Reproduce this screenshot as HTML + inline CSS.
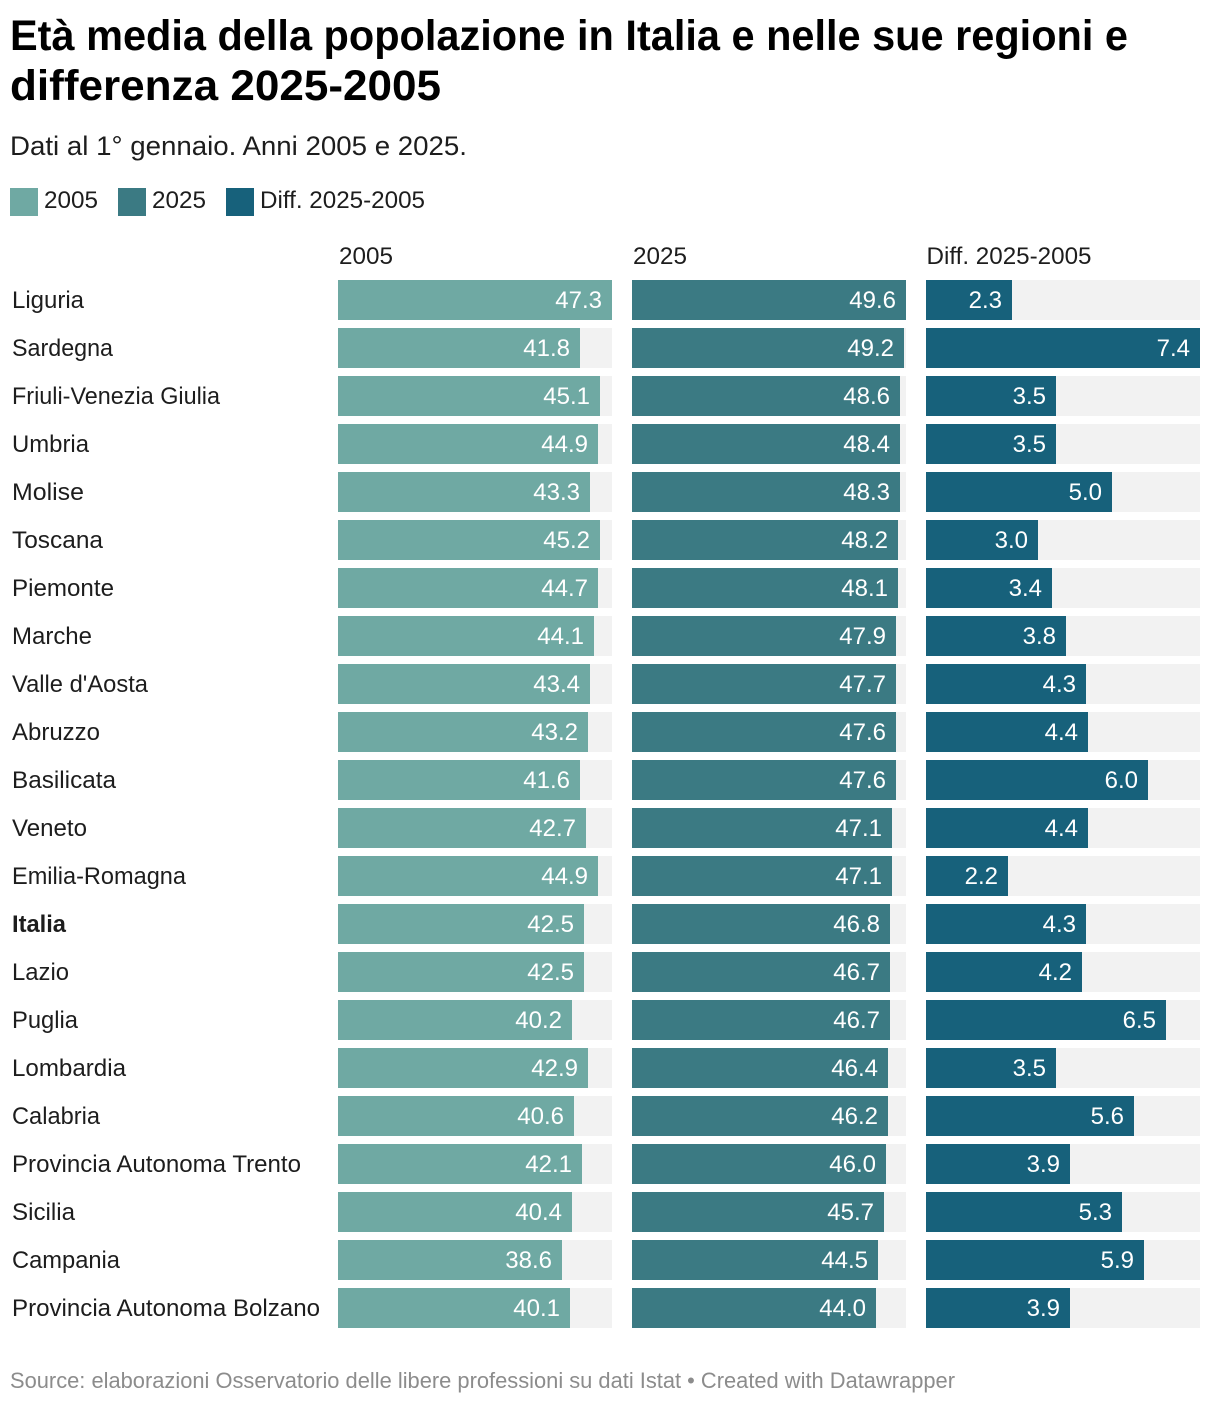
<!DOCTYPE html>
<html lang="it">
<head>
<meta charset="utf-8">
<title>Età media della popolazione in Italia</title>
<style>
html,body{margin:0;padding:0;background:#fff;}
svg{display:block;font-family:"Liberation Sans",Arial,sans-serif;}
text{fill:#1d1d1d;}
</style>
</head>
<body>
<svg id="chart" width="1220" height="1406" viewBox="0 0 1220 1406" xmlns="http://www.w3.org/2000/svg">
  <rect x="0" y="0" width="1220" height="1406" fill="#ffffff"/>
  <text x="10" y="50" font-size="42.5" font-weight="700" style="fill:#000" textLength="1118" lengthAdjust="spacingAndGlyphs">Età media della popolazione in Italia e nelle sue regioni e</text>
  <text x="10" y="100" font-size="42.5" font-weight="700" style="fill:#000" textLength="431" lengthAdjust="spacingAndGlyphs">differenza 2025-2005</text>
  <text x="10" y="155" font-size="27" textLength="457" lengthAdjust="spacingAndGlyphs">Dati al 1° gennaio. Anni 2005 e 2025.</text>

  <rect x="10" y="188" width="28" height="28" fill="#6fa9a3"/>
  <text x="44" y="208" font-size="24" textLength="54" lengthAdjust="spacingAndGlyphs">2005</text>
  <rect x="118" y="188" width="28" height="28" fill="#3b7a83"/>
  <text x="152" y="208" font-size="24" textLength="54" lengthAdjust="spacingAndGlyphs">2025</text>
  <rect x="226" y="188" width="28" height="28" fill="#17617b"/>
  <text x="260" y="208" font-size="24" textLength="165" lengthAdjust="spacingAndGlyphs">Diff. 2025-2005</text>

  <text x="339" y="264" font-size="24" textLength="54" lengthAdjust="spacingAndGlyphs">2005</text>
  <text x="633" y="264" font-size="24" textLength="54" lengthAdjust="spacingAndGlyphs">2025</text>
  <text x="926.5" y="264" font-size="24" textLength="165" lengthAdjust="spacingAndGlyphs">Diff. 2025-2005</text>

  <g id="rows"></g>

  <text x="10" y="1388" font-size="22" style="fill:#8c8c8c" textLength="945" lengthAdjust="spacingAndGlyphs">Source: elaborazioni Osservatorio delle libere professioni su dati Istat • Created with Datawrapper</text>
</svg>
<script>
const categories = ["Liguria","Sardegna","Friuli-Venezia Giulia","Umbria","Molise","Toscana","Piemonte","Marche","Valle d'Aosta","Abruzzo","Basilicata","Veneto","Emilia-Romagna","Italia","Lazio","Puglia","Lombardia","Calabria","Provincia Autonoma Trento","Sicilia","Campania","Provincia Autonoma Bolzano"];
const values2005 = [47.3,41.8,45.1,44.9,43.3,45.2,44.7,44.1,43.4,43.2,41.6,42.7,44.9,42.5,42.5,40.2,42.9,40.6,42.1,40.4,38.6,40.1];
const values2025 = [49.6,49.2,48.6,48.4,48.3,48.2,48.1,47.9,47.7,47.6,47.6,47.1,47.1,46.8,46.7,46.7,46.4,46.2,46.0,45.7,44.5,44.0];
const valuesDiff = [2.3,7.4,3.5,3.5,5.0,3.0,3.4,3.8,4.3,4.4,6.0,4.4,2.2,4.3,4.2,6.5,3.5,5.6,3.9,5.3,5.9,3.9];

const NS = 'http://www.w3.org/2000/svg';
const rowsGroup = document.getElementById('rows');
const ROW_TOP = 280, ROW_STEP = 48, BAR_H = 40, COL_W = 274;

/* Text fitting only: the rendered label widths, since the installed font differs slightly. */
const labelFit = new Map([["Liguria",72],["Sardegna",101],["Friuli-Venezia Giulia",208],["Umbria",77],["Molise",72],["Toscana",91],["Piemonte",102],["Marche",80],["Valle d'Aosta",136],["Abruzzo",88],["Basilicata",104],["Veneto",75],["Emilia-Romagna",174],["Italia",54],["Lazio",57],["Puglia",66],["Lombardia",114],["Calabria",88],["Provincia Autonoma Trento",289],["Sicilia",63],["Campania",108],["Provincia Autonoma Bolzano",308]]);

function yScale(i) { return ROW_TOP + i * ROW_STEP; }
function xScale(v, max, snap) {
  const w = v / max * COL_W;
  return Math.min(COL_W, Math.max(0, Math.ceil(w / 2 - snap) * 2));
}
function add(tag, attrs, parent) {
  const el = document.createElementNS(NS, tag);
  for (const k in attrs) el.setAttribute(k, attrs[k]);
  parent.appendChild(el);
  return el;
}
function slug(s) { return s.toLowerCase().replace(/[^a-z0-9]+/g, '-'); }

const columns = [
  { key: '2005', x: 338, color: '#6fa9a3', values: values2005, snap: 0.15 },
  { key: '2025', x: 632, color: '#3b7a83', values: values2025, snap: 0.35 },
  { key: 'diff', x: 926, color: '#17617b', values: valuesDiff, snap: 0.5 }
];

categories.forEach(function (name, i) {
  const y = yScale(i);
  const label = add('text', { x: 12, y: y + 28, 'font-size': 24 }, rowsGroup);
  
  
  if (name === 'Italia') label.setAttribute('font-weight', '700');
  if (labelFit.has(name)) {
    label.setAttribute('textLength', labelFit.get(name));
    label.setAttribute('lengthAdjust', 'spacingAndGlyphs');
  }
  label.textContent = name;

  columns.forEach(function (col) {
    const max = Math.max.apply(null, col.values);
    const v = col.values[i];
    const w = xScale(v, max, col.snap);

    const track = add('rect', { x: col.x, y: y, width: COL_W, height: BAR_H, fill: '#f2f2f2' }, rowsGroup);
    
    

    const bar = add('rect', { x: col.x, y: y, width: w, height: BAR_H, fill: col.color }, rowsGroup);
    
    

    const val = add('text', { x: col.x + w - 10, y: y + 28, 'font-size': 24, 'text-anchor': 'end', style: 'fill:#ffffff' }, rowsGroup);
    
    
    val.textContent = v.toFixed(1);
  });
});
</script>
</body>
</html>
